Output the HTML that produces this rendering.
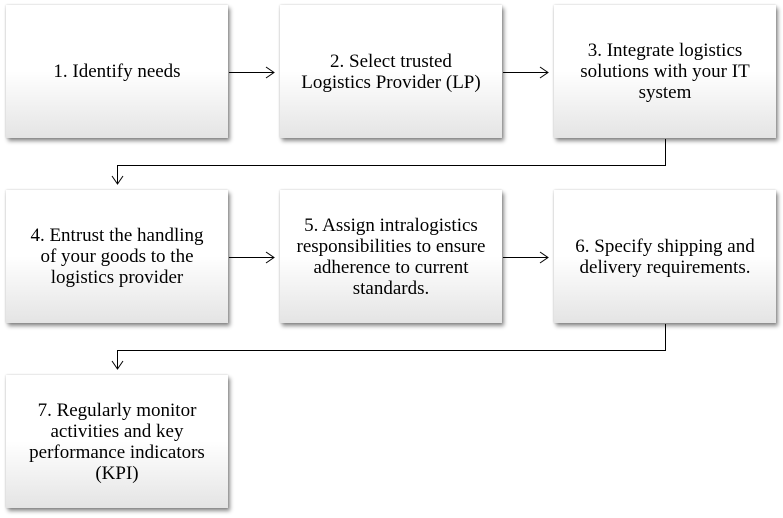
<!DOCTYPE html>
<html><head><style>
body{margin:0;width:783px;height:518px;background:#fff;position:relative;overflow:hidden;font-family:"Liberation Serif",serif;}
.b{position:absolute;width:222px;height:133px;background:linear-gradient(#fff 0%,#fff 50%,#e4e4e4 100%);box-shadow:2px 3px 4px rgba(0,0,0,0.45),0 0 2px rgba(0,0,0,0.2);display:flex;align-items:center;justify-content:center;text-align:center;font-size:19px;line-height:21px;color:#000;padding:0 2px;box-sizing:border-box;}
svg{position:absolute;left:0;top:0}
</style></head><body>
<div class="b" style="left:6px;top:5px">1. Identify needs</div>
<div class="b" style="left:280px;top:5px">2. Select trusted<br>Logistics Provider (LP)</div>
<div class="b" style="left:554px;top:5px">3. Integrate logistics<br>solutions with your IT<br>system</div>
<div class="b" style="left:6px;top:190px">4. Entrust the handling<br>of your goods to the<br>logistics provider</div>
<div class="b" style="left:280px;top:190px">5. Assign intralogistics<br>responsibilities to ensure<br>adherence to current<br>standards.</div>
<div class="b" style="left:554px;top:190px">6. Specify shipping and<br>delivery requirements.</div>
<div class="b" style="left:6px;top:375px">7. Regularly monitor<br>activities and key<br>performance indicators<br>(KPI)</div>
<svg width="783" height="518" fill="none" stroke="#000" stroke-width="1">
<path d="M229 72.5H274M266 67l8 5.5-8 5.5"/>
<path d="M503 72.5H548M540 67l8 5.5-8 5.5"/>
<path d="M229 257.5H274M266 252l8 5.5-8 5.5"/>
<path d="M503 257.5H548M540 252l8 5.5-8 5.5"/>
<path d="M665.5 139V165.5H117.5V184M112 176l5.5 8 5.5-8"/>
<path d="M665.5 324V350.5H117.5V369M112 361l5.5 8 5.5-8"/>
</svg>
</body></html>
